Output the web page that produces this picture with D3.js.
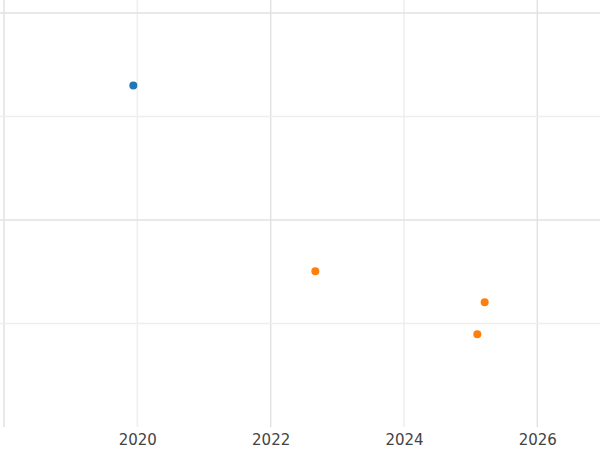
<!DOCTYPE html>
<html><head><meta charset="utf-8">
<script src="https://cdn.jsdelivr.net/npm/d3@7"></script>
<style>body{margin:0;background:#fff} .tick text{font-family:"DejaVu Sans",Verdana,sans-serif !important}</style>
</head><body>
<svg id="chart" width="600" height="450"></svg>
<script>
var blueX = [2019.94]
var blueY = [3.30]
var orangeX = [2022.67, 2025.21, 2025.10]
var orangeY = [1.505, 1.205, 0.895]
var xTicks = [2020, 2022, 2024, 2026]
var xGrid = [2018, 2020, 2022, 2024, 2026]
var yGrid = [1, 2, 3, 4]

var svg = d3.select("#chart")
var x = d3.scaleLinear().domain([2018, 2026.94]).range([4, 600])
var y = d3.scaleLinear().domain([0, 4]).range([427, 13])

// grid: alternating darker / lighter lines
svg.selectAll(".gx").data(xGrid).enter().append("line")
  .attr("x1", x).attr("x2", x).attr("y1", 0).attr("y2", 427)
  .attr("stroke", function(d){return d%4==2 ? "#e2e2e2" : "#eeeeee"}).attr("stroke-width", 1.5)
svg.selectAll(".gy").data(yGrid).enter().append("line")
  .attr("x1", 0).attr("x2", 600).attr("y1", y).attr("y2", y)
  .attr("stroke", function(d){return d%2==0 ? "#e2e2e2" : "#eeeeee"}).attr("stroke-width", 1.5)

var xAxis = svg.append("g").attr("transform", "translate(0,427)")
  .call(d3.axisBottom(x).tickValues(xTicks).tickFormat(d3.format("d")).tickSize(0).tickPadding(7))
xAxis.attr("font-family", "DejaVu Sans")
xAxis.select(".domain").remove()
xAxis.selectAll("text").attr("font-size", 15).attr("fill", "#444")

function dots(xs, ys, c) {
  svg.append("g").selectAll("circle").data(xs).enter().append("circle")
    .attr("cx", function(d){return x(d)})
    .attr("cy", function(d, i){return y(ys[i])})
    .attr("r", 4).attr("fill", c)
}
dots(blueX, blueY, "#1f77b4")
dots(orangeX, orangeY, "#ff7f0e")
</script>
</body></html>
